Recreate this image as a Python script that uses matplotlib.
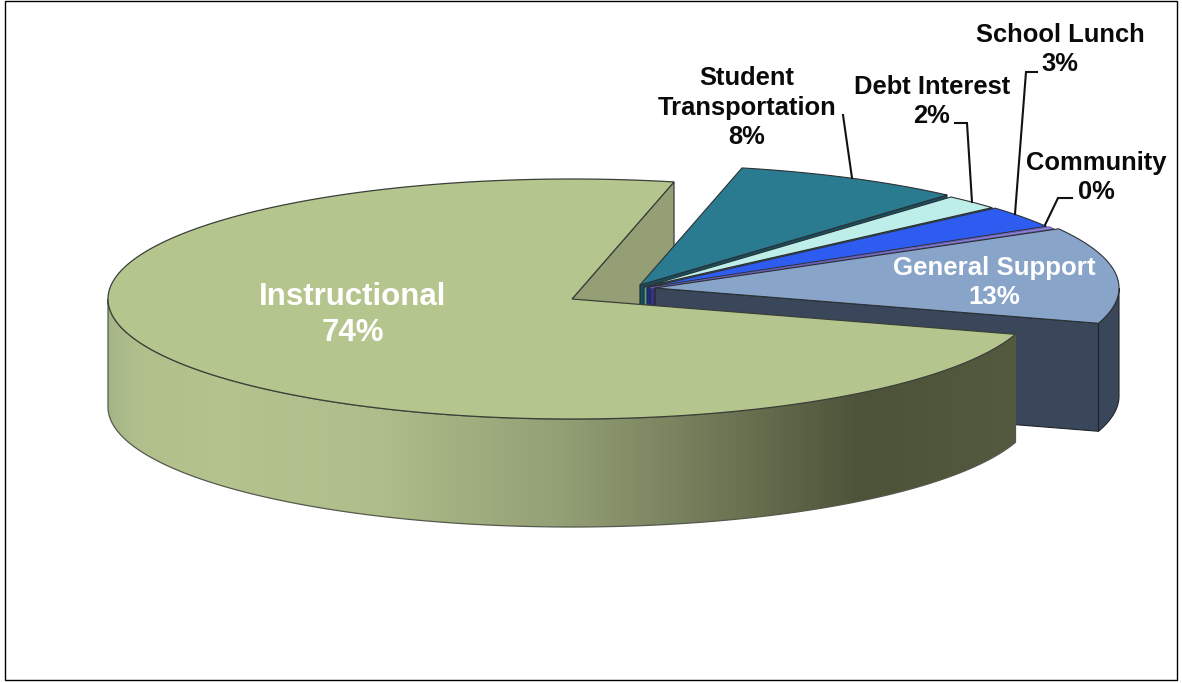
# -*- coding: utf-8 -*-
import numpy as np
import matplotlib
matplotlib.use("Agg")
import matplotlib.pyplot as plt
from matplotlib.colors import LinearSegmentedColormap
from matplotlib.patches import Polygon, Rectangle

plt.rcParams['font.family'] = ['Liberation Sans', 'DejaVu Sans']

# budget shares, clockwise from the top of the big slice
names = ["Student\nTransportation", "Debt Interest", "School Lunch", "Community", "General Support"]
shares = [8, 2, 3, 0.3, 13]
big_name = "Instructional"
big_share = 74

top_colors = ["#2b7b90", "#bdeeea", "#2e5cf0", "#8f86d6", "#89a4c9"]
wall_colors = ["#174f5f", "#5f9a9a", "#18309a", "#3b327e", "#3a4659"]
top_edges = ["#2c3236", "#2c3236", "#2c3236", "#6a60b4", "#2c3236"]

# ellipse of the pie in pixels
RX = 464
RY = 120
DEPTH = 108
START = 77.3
BIG_CENTRE = (572, 299)
slice_centres = [(640, 285), (644, 287), (647, 287.5), (650, 288), (655, 288)]

EDGE = "#3a3f38"

total = sum(shares) + big_share


def arc(centre, a1, a2, n=160):
    t = np.radians(np.linspace(a1, a2, n))
    return np.column_stack([centre[0] + RX * np.cos(t), centre[1] - RY * np.sin(t)])


def outer_wall(centre, a1, a2):
    # a1 -> a2 along the rim, then back along the bottom rim
    rim = arc(centre, a1, a2)
    low = rim[::-1] + [0, DEPTH]
    return np.vstack([rim, low])


fig = plt.figure(figsize=(11.82, 6.83), dpi=100)
ax = fig.add_axes([0, 0, 1, 1])
ax.set_xlim(0, 1182)
ax.set_ylim(683, 0)
ax.axis("off")

ax.add_patch(Rectangle((5, 1), 1172, 679, fc="white", ec="black", lw=1.0))

big_sweep = big_share / total * 360
big_a1 = START
big_a2 = START + big_sweep

# cut face of the big slice, behind everything else
p0 = arc(BIG_CENTRE, big_a1, big_a1, 1)[0]
ax.add_patch(Polygon([BIG_CENTRE, p0, p0 + [0, DEPTH], np.array(BIG_CENTRE) + [0, DEPTH]],
                     fc="#959f76", ec=EDGE, lw=0.9, zorder=2))

# small slices, back to front
a = START
for i in range(len(shares)):
    sweep = shares[i] / total * 360
    a1, a2 = a, a - sweep
    c = slice_centres[i]
    end = arc(c, a2, a2, 1)[0]
    z = 3 + i * 0.1
    # cut face running from the apex to the rim
    ax.add_patch(Polygon([c, end, end + [0, DEPTH], np.array(c) + [0, DEPTH]],
                         fc=wall_colors[i], ec="#20242a", lw=0.8, zorder=z))
    # rim wall, only where the slice comes below the centre line
    if a2 < 0:
        ax.add_patch(Polygon(outer_wall(c, 0, a2), fc=wall_colors[i], ec="#20242a", lw=0.8, zorder=z))
    top = np.vstack([[c], arc(c, a1, a2)])
    ax.add_patch(Polygon(top, fc=top_colors[i], ec=top_edges[i], lw=0.8, zorder=z + 0.05))
    a = a2

# rim wall of the big slice with its shading
wall = Polygon(outer_wall(BIG_CENTRE, 180, big_a2), fc="none", ec="none", zorder=5)
ax.add_patch(wall)
shade = LinearSegmentedColormap.from_list("shade", [
    (0.0, "#a6b588"), (0.03, "#b0bf8b"), (0.12, "#b5c48e"), (0.30, "#aebd8a"),
    (0.50, "#939f75"), (0.66, "#727b58"), (0.83, "#4c5339"), (1.0, "#535a3f")])
x_left = BIG_CENTRE[0] - RX
x_right = arc(BIG_CENTRE, big_a2, big_a2, 1)[0][0]
img = ax.imshow(np.linspace(0, 1, 512).reshape(1, -1), cmap=shade, aspect="auto",
                extent=[x_left, x_right, 683, 0], zorder=5, interpolation="bilinear")
img.set_clip_path(wall)
ax.add_patch(Polygon(outer_wall(BIG_CENTRE, 180, big_a2), fc="none", ec="#55594c", lw=0.9, zorder=5.1))

# top of the big slice
big_top = np.vstack([[BIG_CENTRE], arc(BIG_CENTRE, big_a1, big_a2, 400)])
ax.add_patch(Polygon(big_top, fc="#b5c58e", ec=EDGE, lw=0.9, zorder=6))
ax.set_xlim(0, 1182)
ax.set_ylim(683, 0)

# leader lines to the small slices
leaders = [
    ([843, 852], [115, 178]),
    ([955, 967, 972], [123, 123, 202]),
    ([1037, 1026, 1015], [72, 72, 214]),
    ([1072, 1058, 1045], [198, 198, 225]),
]
for xs, ys in leaders:
    ax.plot(xs, ys, color="#111111", lw=1.5, zorder=7, solid_joinstyle="miter")

label_pos = [(747, 107), (932, 101), (1060, 49), (1096, 177)]
for i in range(4):
    ax.text(label_pos[i][0], label_pos[i][1] + 0.5, "%s\n%.0f%%" % (names[i], shares[i]),
            ha="center", va="center", fontsize=18.4, fontweight="bold", color="#0a0a0a",
            linespacing=1.3, zorder=8)

ax.text(994, 282.5, "%s\n%.0f%%" % (names[4], shares[4]), ha="center", va="center",
        fontsize=18.6, fontweight="bold", color="white", linespacing=1.26, zorder=8)
ax.text(353, 315, "%s\n%.0f%%" % (big_name, big_share), ha="center", va="center",
        fontsize=22.5, fontweight="bold", color="white", linespacing=1.22, zorder=8)

fig.savefig("out.png", dpi=100)
